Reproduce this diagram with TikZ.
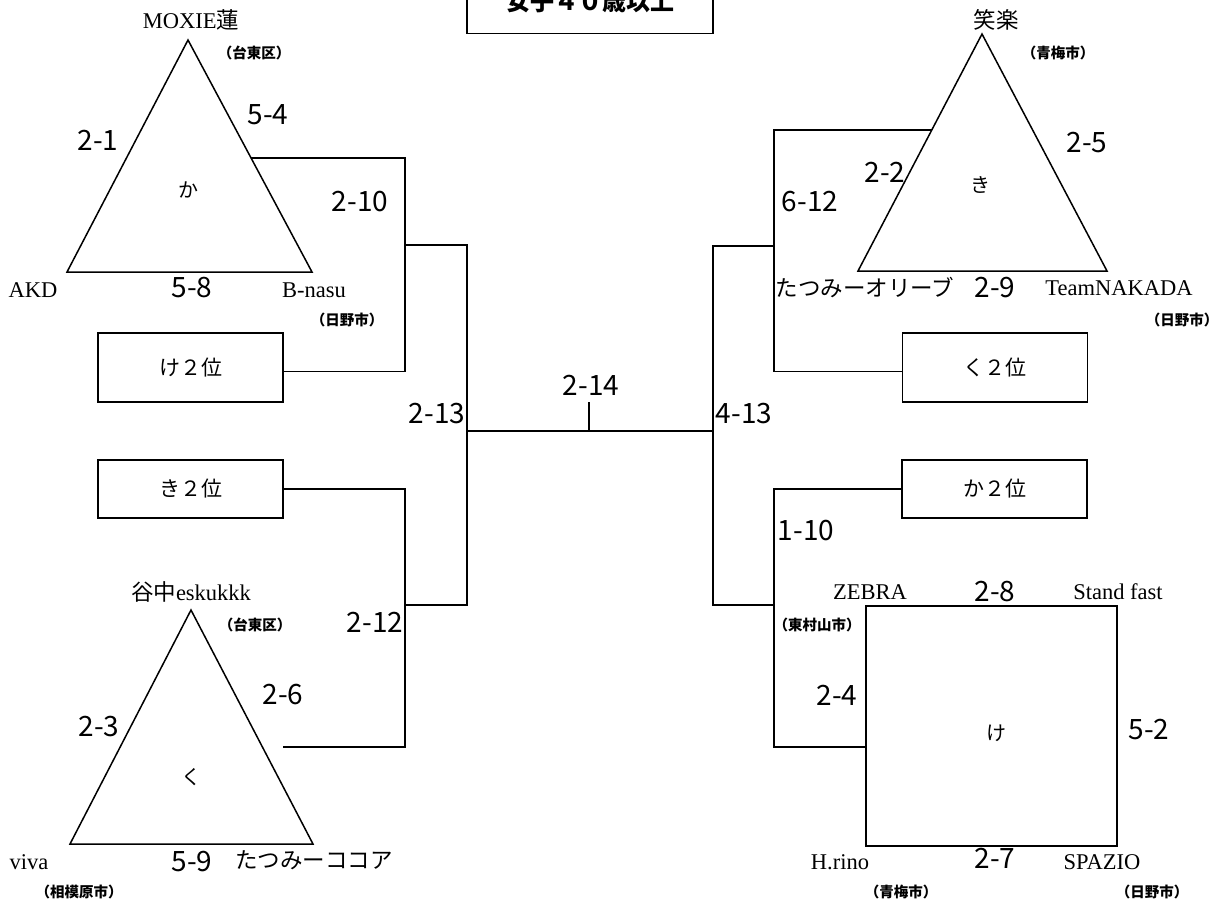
\documentclass[tikz,border=0pt]{standalone}
\usepackage{fontspec}
\setmainfont{Liberation Serif}
\newfontfamily\cjk{Noto Sans CJK JP}
\usetikzlibrary{positioning}

\tikzset{
        bline/.style={line width=1.5pt},
        score/.style={inner sep=0pt, font=\cjk\fontsize{28}{28}\selectfont},
        team/.style={inner sep=0pt, font=\fontsize{22.5}{22.5}\selectfont},
        city/.style={inner sep=0pt, font=\cjk\bfseries\fontsize{14.5}{14.5}\selectfont},
        pool/.style={inner sep=0pt, font=\cjk\fontsize{20}{20}\selectfont},
        seed/.style={draw, bline, inner sep=0pt, minimum width=185pt, font=\cjk\fontsize{21}{21}\selectfont},
}

\begin{document}
\begin{tikzpicture}[x=1pt,y=-1pt]
                \useasboundingbox (0,0) rectangle (1223,905);
                % title
                \node[draw, bline, minimum width=246pt, minimum height=70pt, anchor=south] (title) at (590,34) {};
                \node[inner sep=0pt, anchor=base, font=\cjk\bfseries\fontsize{24}{24}\selectfont] (titletext) at (590,10) {女子４０歳以上};
                % pool ka
                \coordinate (ka1) at (188,40);
                \coordinate (ka2) at (67,272);
                \coordinate (ka3) at (312,272);
                \draw[bline] (ka1) -- (ka2) -- (ka3) -- cycle;
                \node[pool] (kaname) at (188,190) {か};
                \node[team] (moxie) at (191,20) {MOXIE{\cjk 蓮}};
                \node[city] (moxiecity) at (254,53) {（台東区）};
                \node[team] (akd) at (33,290) {AKD};
                \node[team] (bnasu) at (314,290) {B-nasu};
                \node[city] (bnasucity) at (347,320) {（日野市）};
                \node[score] (s54) at (268,115) {5-4};
                \node[score] (s21) at (98,140) {2-1};
                \node[score] (s58) at (192,288) {5-8};
                % pool ku
                \coordinate (ku1) at (191,610);
                \coordinate (ku2) at (70,844);
                \coordinate (ku3) at (313,844);
                \draw[bline] (ku1) -- (ku2) -- (ku3) -- cycle;
                \node[pool] (kuname) at (191,777) {く};
                \node[team] (yanaka) at (191,592) {{\cjk 谷中}eskukkk};
                \node[city] (yanakacity) at (255,625) {（台東区）};
                \node[team] (viva) at (29,862) {viva};
                \node[city] (vivacity) at (79,892) {（相模原市）};
                \node[team] (cocoa) at (314,860) {{\cjk たつみーココア}};
                \node[score] (s26) at (283,695) {2-6};
                \node[score] (s23) at (99,727) {2-3};
                \node[score] (s59) at (192,862) {5-9};
                % pool ki
                \coordinate (ki1) at (982,34);
                \coordinate (ki2) at (858,271);
                \coordinate (ki3) at (1107,271);
                \draw[bline] (ki1) -- (ki2) -- (ki3) -- cycle;
                \node[pool] (kiname) at (980,185) {き};
                \node[team] (shoraku) at (996,20) {{\cjk 笑楽}};
                \node[city] (shorakucity) at (1058,53) {（青梅市）};
                \node[team] (olive) at (865,288) {{\cjk たつみーオリーブ}};
                \node[team] (nakada) at (1119,288) {TeamNAKADA};
                \node[city] (nakadacity) at (1182,320) {（日野市）};
                \node[score] (s25) at (1087,143) {2-5};
                \node[score] (s22) at (885,172) {2-2};
                \node[score] (s29) at (995,288) {2-9};
                % pool ke
                \draw[bline] (866,606) rectangle (1117,846);
                \node[pool] (kename) at (996,733) {け};
                \node[team] (zebra) at (870,592) {ZEBRA};
                \node[city] (zebracity) at (817,625) {（東村山市）};
                \node[team] (standfast) at (1118,592) {Stand fast};
                \node[team] (hrino) at (840,862) {H.rino};
                \node[city] (hrinocity) at (901,892) {（青梅市）};
                \node[team] (spazio) at (1102,862) {SPAZIO};
                \node[city] (spaziocity) at (1152,892) {（日野市）};
                \node[score] (s28) at (995,592) {2-8};
                \node[score] (s24) at (837,695) {2-4};
                \node[score] (s52) at (1149,730) {5-2};
                \node[score] (s27) at (995,858) {2-7};
                % second places
                \node[seed, minimum height=69pt] (ke2nd) at (190.5,367.5) {け２位};
                \node[seed, minimum height=58pt] (ki2nd) at (190.5,489) {き２位};
                \node[seed, minimum height=69pt] (ku2nd) at (995,367.5) {く２位};
                \node[seed, minimum height=58pt] (ka2nd) at (994.5,489) {か２位};
                % bracket left
                \coordinate (kaout) at (251,158);
                \coordinate (kuout) at (283,747);
                \coordinate (j1) at (405,245);
                \coordinate (j2) at (405,605);
                \draw[bline] (kaout) -- (405,158) |- ([yshift=-4pt]ke2nd.east);
                \draw[bline] (ki2nd.east) -| (405,747) -- (kuout);
                \draw[bline] (j1) -| (467,605) -- (j2);
                \node[score] (s210) at (360,202) {2-10};
                \node[score] (s212) at (375,622) {2-12};
                \node[score] (s213) at (437,414) {2-13};
                % bracket right
                \coordinate (kiout) at (932,130);
                \coordinate (keout) at (866,747);
                \coordinate (j3) at (774,246);
                \coordinate (j4) at (774,605);
                \draw[bline] (kiout) -- (774,130) |- ([yshift=-4pt]ku2nd.west);
                \draw[bline] (ka2nd.west) -| (774,747) -- (keout);
                \draw[bline] (j3) -| (713,605) -- (j4);
                \node[score] (s612) at (810,202) {6-12};
                \node[score] (s110) at (806,531) {1-10};
                \node[score] (s413) at (744,414) {4-13};
                % final
                \coordinate (fl) at (467,431);
                \coordinate (fr) at (713,431);
                \coordinate (ftop) at (589,402);
                \draw[bline] (fl) -- (fr);
                \draw[bline] (ftop) -- (589,431);
                \node[score] (s214) at (591,385) {2-14};
        \end{tikzpicture}
\end{document}
